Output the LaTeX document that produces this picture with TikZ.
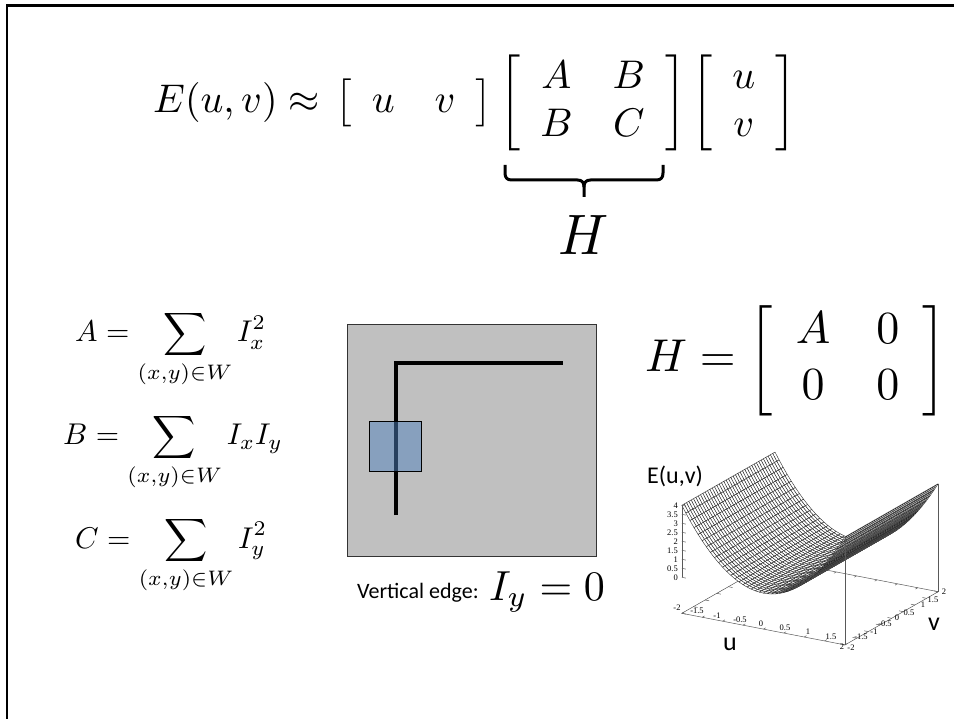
\documentclass[tikz,border=0pt]{standalone}
\usepackage{fontspec}
\usepackage{graphicx}
\newfontfamily\calib{Carlito}
\newfontfamily\tickf{Liberation Serif}
\definecolor{boxgray}{RGB}{192,192,192}
\definecolor{winblue}{RGB}{79,129,189}
\begin{document}
\begin{tikzpicture}[x=1pt,y=-1pt,
  mesh/.style={fill=white,draw=black!85,line width=0.4pt,line join=round},
  axisline/.style={draw=black!65,line width=0.5pt},
  ticklab/.style={font=\tickf\fontsize{8.5}{9}\selectfont,inner sep=0pt},
  eq/.style={inner sep=0pt},
  bracestyle/.style={draw=black,line width=3pt,line cap=butt,line join=round},
  calibtext/.style={font=\calib\fontsize{22}{26}\selectfont,inner sep=0pt}]
\useasboundingbox (0,0) rectangle (954,719);

% frame
\draw[line width=2.6pt,line join=miter] (954,5.3) -- (7,5.3) -- (7,719);

% top equation
\node[eq,anchor=base west] (lhs) at (153,113) {\scalebox{4}{$\displaystyle E(u,v)\approx$}};
\node[eq,anchor=base west] (rowvec) at (335,113) {\scalebox{4}{$\displaystyle\left[\begin{array}{cc}u&v\end{array}\right]$}};
\node[eq,anchor=base west] (hmat) at (499,113) {\scalebox{4}{$\displaystyle\left[\begin{array}{cc}A&B\\B&C\end{array}\right]$}};
\node[eq,anchor=base west] (colvec) at (691,113) {\scalebox{4}{$\displaystyle\left[\begin{array}{c}u\\v\end{array}\right]$}};
% underbrace
\draw[bracestyle] (505,165) -- (505,173) .. controls (505,177.5) and (507,180) .. (511.5,180) -- (577.5,180) .. controls (582,180) and (584,182.5) .. (584,187) -- (584,197);
\draw[bracestyle] (663,165) -- (663,173) .. controls (663,177.5) and (661,180) .. (656.5,180) -- (590.5,180) .. controls (586,180) and (584,182.5) .. (584,187);
\node[eq,anchor=base] (hlabel) at (584,255) {\scalebox{5.5}[5.7]{$H$}};

% left sums
\node[eq,anchor=base west] (suma) at (75,342) {\scalebox{3}{$\displaystyle A=\sum_{(x,y)\in W} I_x^2$}};
\node[eq,anchor=base west] (sumb) at (63,445) {\scalebox{3}{$\displaystyle B=\sum_{(x,y)\in W} I_xI_y$}};
\node[eq,anchor=base west] (sumc) at (75,548) {\scalebox{3}{$\displaystyle C=\sum_{(x,y)\in W} I_y^2$}};

% H matrix
\node[eq,anchor=base west] (hfull) at (645,372) {\scalebox{4.6}{$\displaystyle H=\left[\begin{array}{cc}A&0\\0&0\end{array}\right]$}};

% gray image with edge and window
\filldraw[fill=boxgray,draw=black!80,line width=0.7pt] (347,324) rectangle (596,556);
\draw[line width=4pt,line join=miter] (395.7,515) -- (395.7,363) -- (563,363);
\filldraw[fill=winblue,fill opacity=0.5,draw=black,line width=0.7pt] (369,421) rectangle (421,471);
\node[calibtext,anchor=base west] (vlab) at (357,598) {Vertical edge:};
\node[eq,anchor=base west] (iyeq) at (489,600) {\scalebox{4.2}{$I_y=0$}};

% surface plot: base box
\coordinate (b1) at (681.8,613.3);
\coordinate (b2) at (845,644.9);
\coordinate (b3) at (938.2,591.7);
\coordinate (b4) at (775,560.1);
\draw[axisline] (b1) -- (b2) -- (b3) -- (b4) -- cycle;
\foreach \t in {-2,-1.5,...,2}{
  \draw[axisline] ({763.4+40.8*(\t)},{629.1+7.9*(\t)}) -- ++(2.3,-1.3);
  \draw[axisline] ({856.6+40.8*(\t)},{575.9+7.9*(\t)}) -- ++(-2.3,1.3);
  \draw[axisline] ({891.6+23.3*(\t)},{618.3-13.3*(\t)}) -- ++(-4.1,-0.8);
  \draw[axisline] ({728.4+23.3*(\t)},{586.7-13.3*(\t)}) -- ++(4.1,0.8);
}
% surface z = u^2, painter's order far to near
\foreach \i in {0,...,39}{%
  \pgfmathsetmacro\ua{-2+0.1*\i}%
  \pgfmathsetmacro\ub{-1.9+0.1*\i}%
  \pgfmathsetmacro\xa{810+40.8*(\ua)}%
  \pgfmathsetmacro\xb{810+40.8*(\ub)}%
  \pgfmathsetmacro\ya{602.5+7.9*(\ua)-18*((\ua)*(\ua)+2)}%
  \pgfmathsetmacro\yb{602.5+7.9*(\ub)-18*((\ub)*(\ub)+2)}%
  \foreach \j in {0,...,39}{%
    \pgfmathsetmacro\pa{2-0.1*\j}%
    \pgfmathsetmacro\pxa{23.3*(\pa)}%
    \pgfmathsetmacro\pya{-13.3*(\pa)}%
    \pgfmathsetmacro\pxb{23.3*(\pa-0.1)}%
    \pgfmathsetmacro\pyb{-13.3*(\pa-0.1)}%
    \filldraw[mesh] ({\xa+(\pxa)},{\ya+(\pya)}) -- ({\xb+(\pxa)},{\yb+(\pya)}) -- ({\xb+(\pxb)},{\yb+(\pyb)}) -- ({\xa+(\pxb)},{\ya+(\pyb)}) -- cycle;
  }%
}
% vertical borders and z axis
\draw[axisline] (b2) -- (845,536.9);
\draw[axisline] (b3) -- (938.2,483.7);
\draw[axisline] (681.8,577.3) -- (681.8,505.3);
\foreach \k in {0,0.5,...,4}{
  \draw[axisline] (681.8,{577.3-18*\k}) -- ++(4,0.8);
}
% tick labels
\foreach \lab/\x/\y [count=\n] in {-2/677/608,-1.5/697/611,-1/717/616,-0.5/740/620,0/761/624,0.5/785/628,1/808/632,1.5/831/637,2/842/647}
  \node[ticklab] (ut\n) at (\x,\y) {\lab};
\foreach \lab/\x/\y [count=\n] in {-2/851/648,-1.5/861/637,-1/874/632,-0.5/885/624,0/897/618,0.5/909/613,1/923/605,1.5/933/600,2/944/592}
  \node[ticklab] (vt\n) at (\x,\y) {\lab};
\foreach \lab/\y [count=\n] in {0/578,0.5/569,1/560,1.5/551,2/542,2.5/533,3/524,3.5/515,4/506}
  \node[ticklab,anchor=east] (zt\n) at (678,\y) {\lab};
% axis titles
\node[font=\calib\fontsize{24}{28}\selectfont,inner sep=0pt,anchor=base west] (elab) at (647,483) {E(u,v)};
\node[font=\calib\fontsize{26}{30}\selectfont,inner sep=0pt,anchor=base] (ulab) at (730,650) {u};
\node[font=\calib\fontsize{26}{30}\selectfont,inner sep=0pt,anchor=base] (vlabel) at (934,630) {v};
\end{tikzpicture}
\end{document}
